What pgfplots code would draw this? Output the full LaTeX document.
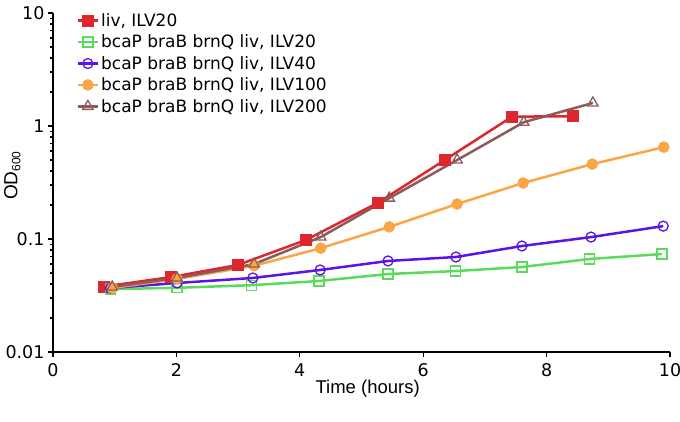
\documentclass[border=0pt]{standalone}
\usepackage{fontspec}
\setmainfont{DejaVu Sans}
\newfontfamily\arialfont{Liberation Sans}
\usepackage{pgfplots}
\pgfplotsset{compat=1.18}

\definecolor{cRed}{RGB}{221,38,45}
\definecolor{cGreen}{RGB}{90,220,90}
\definecolor{cPurple}{RGB}{90,20,230}
\definecolor{cOrange}{RGB}{250,165,70}
\definecolor{cBrown}{RGB}{140,90,90}

\begin{document}
\begin{tikzpicture}
\useasboundingbox (-53pt,-70pt) rectangle (627pt,352pt);
\begin{axis}[
  scale only axis,
  width=617pt, height=339pt,
  ymode=log,
  xmin=0, xmax=10, ymin=0.01, ymax=10,
  xtick={0,2,...,10},
  ytick={0.01,0.1,1,10},
  yticklabels={0.01,0.1,1,10},
  minor ytick={},
  axis x line=bottom, axis y line=left,
  axis line style={line width=1.5pt,-},
  tick align=outside,
  major tick length=5pt,
  tick style={black,line width=1.2pt},
  every tick label/.append style={font=\fontsize{17.5}{20}\selectfont},
  xticklabel style={yshift=-3pt},
  /pgf/number format/assume math mode=true,
  xlabel={\arialfont\fontsize{18.5}{21}\selectfont Time (hours)},
  ylabel={\arialfont\fontsize{19}{22}\selectfont OD{\fontsize{12}{13}\selectfont\raisebox{-3pt}{600}}},
  xlabel style={at={(axis description cs:0.51,-0.108)}, anchor=center},
  ylabel style={at={(axis description cs:-0.066,0.52)}, anchor=center},
  legend style={at={(0.038,1.005)}, anchor=north west, draw=none, fill=none,
    font=\fontsize{17}{19.5}\selectfont, row sep=3pt, inner sep=0pt},
  legend cell align=left,
  legend image code/.code={
    \draw[#1] (0pt,0pt) -- (20pt,0pt);
    \draw[#1,mark repeat=2,mark phase=2] plot coordinates {(0pt,0pt) (10pt,0pt) (20pt,0pt)};
  },
  every axis plot/.append style={line width=2.5pt},
]
\addplot[cRed, mark=square*, mark size=5.5pt, mark options={line width=0.5pt}] coordinates {
  (0.83,0.038) (1.91,0.046) (3.0,0.059) (4.1,0.098) (5.27,0.21)
  (6.35,0.50) (7.44,1.21) (8.43,1.22)
};
\addlegendentry{liv, ILV20}
\addplot[cGreen, mark=square, mark size=5pt, mark options={line width=1.3pt, fill=none}] coordinates {
  (0.93,0.036) (2.01,0.037) (3.22,0.039) (4.31,0.0425) (5.43,0.049)
  (6.52,0.052) (7.6,0.0565) (8.7,0.0666) (9.87,0.0736)
};
\addlegendentry{bcaP braB brnQ liv, ILV20}
\addplot[cPurple, mark=o, mark size=5pt, mark options={line width=1.3pt, fill=none}] coordinates {
  (0.93,0.0368) (2.01,0.0408) (3.24,0.0452) (4.33,0.0532) (5.43,0.0639)
  (6.53,0.0693) (7.6,0.0867) (8.72,0.104) (9.89,0.130)
};
\addlegendentry{bcaP braB brnQ liv, ILV40}
\addplot[cOrange, mark=*, mark size=5.5pt, mark options={line width=0.5pt}] coordinates {
  (0.96,0.0368) (2.01,0.0443) (3.26,0.058) (4.34,0.083) (5.45,0.128)
  (6.55,0.204) (7.62,0.313) (8.74,0.46) (9.9,0.65)
};
\addlegendentry{bcaP braB brnQ liv, ILV100}
\addplot[cBrown, mark=triangle, mark size=6pt, mark options={line width=1.3pt, fill=none}] coordinates {
  (0.96,0.0376) (2.01,0.0452) (3.26,0.060) (4.34,0.104) (5.45,0.23)
  (6.55,0.50) (7.63,1.08) (8.75,1.6)
};
\addlegendentry{bcaP braB brnQ liv, ILV200}
\end{axis}
\end{tikzpicture}
\end{document}
